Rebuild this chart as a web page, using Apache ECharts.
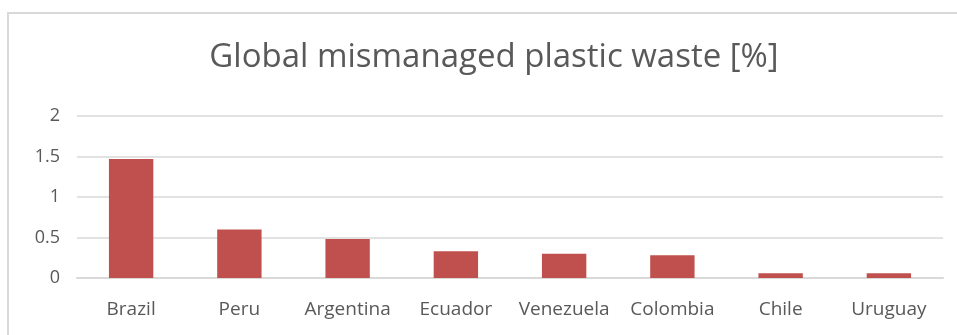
<!DOCTYPE html>
<html>
<head>
<meta charset="utf-8">
<script src="https://cdn.jsdelivr.net/npm/echarts@6/dist/echarts.min.js"></script>
<style>
  html, body { margin: 0; padding: 0; background: #fff; }
  #frame { position: absolute; left: 0; top: 0; width: 957px; height: 335px; overflow: hidden; }
  #border { position: absolute; left: 7px; top: 12px; width: 980px; height: 360px;
            border: 2px solid #d9d9d9; box-sizing: border-box; }
  #chart { position: absolute; left: 0; top: 0; width: 957px; height: 335px; }
</style>
</head>
<body>
<div id="frame">
  <div id="border"></div>
  <div id="chart"></div>
</div>
<script>
// Mismanaged plastic waste share by country
const countries = ['Brazil', 'Peru', 'Argentina', 'Ecuador', 'Venezuela', 'Colombia', 'Chile', 'Uruguay'];
const wasteShare = [1.47, 0.60, 0.48, 0.33, 0.30, 0.28, 0.06, 0.06];
const yTicks = { min: 0, max: 2, interval: 0.5 };

const chart = echarts.init(document.getElementById('chart'), null, { renderer: 'canvas' });
chart.setOption({
  animation: false,
  title: {
    text: 'Global mismanaged plastic waste [%]',
    left: 489,
    textAlign: 'center',
    top: 36,
    textStyle: { fontFamily: 'Open Sans', fontSize: 33, fontWeight: 'normal', color: '#595959' }
  },
  grid: { left: 77, right: 14, top: 116, bottom: 57 },
  xAxis: {
    type: 'category',
    data: countries,
    axisLine: { show: true, lineStyle: { color: '#d9d9d9', width: 2 } },
    axisTick: { show: false },
    axisLabel: { interval: 0, color: '#595959', fontFamily: 'Open Sans', fontSize: 19, margin: 22 }
  },
  yAxis: {
    type: 'value',
    min: yTicks.min,
    max: yTicks.max,
    interval: yTicks.interval,
    axisLine: { show: false },
    axisTick: { show: false },
    splitLine: { lineStyle: { color: '#d9d9d9', width: 1.5 } },
    axisLabel: { color: '#595959', fontFamily: 'Open Sans', fontSize: 18, margin: 17 }
  },
  series: [{
    type: 'bar',
    data: wasteShare,
    barWidth: '41%',
    itemStyle: { color: '#C0504D' }
  }]
});
</script>
</body>
</html>
